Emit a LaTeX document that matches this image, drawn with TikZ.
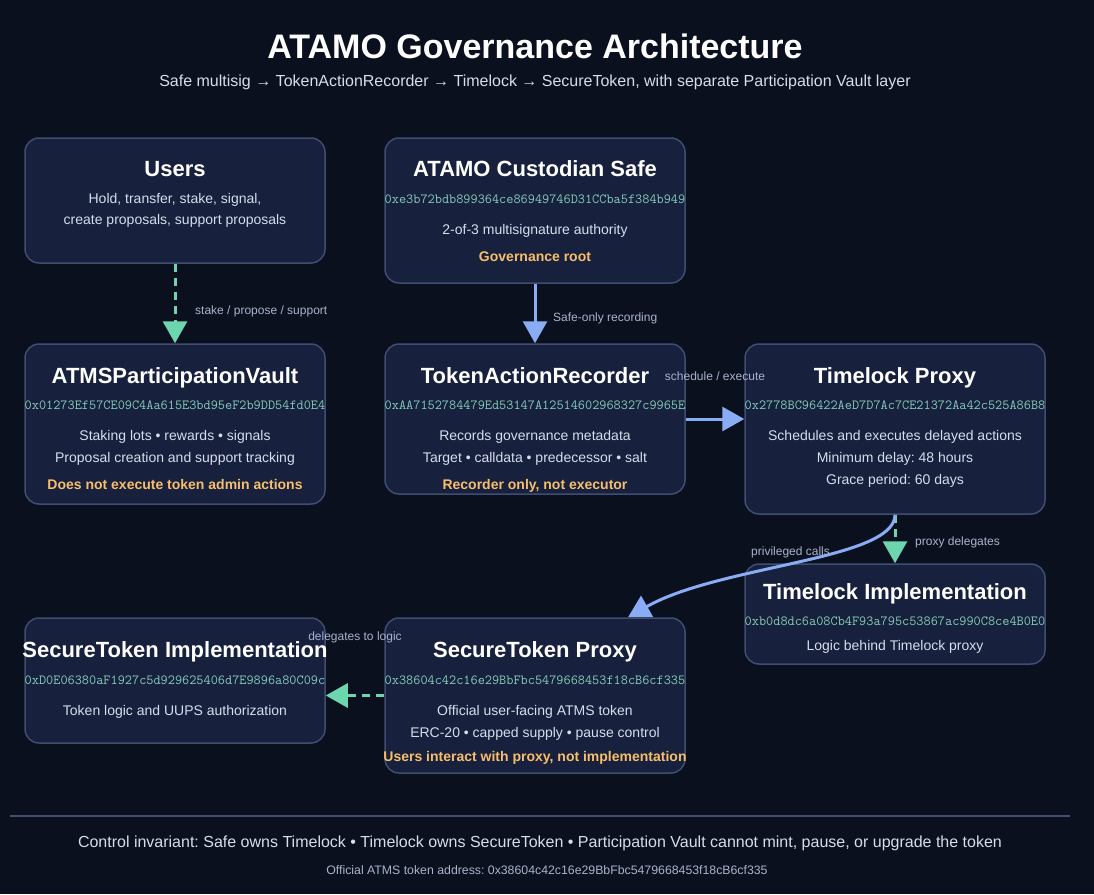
\documentclass[tikz,border=0pt]{standalone}
\usepackage{fontspec}
\setmainfont{Liberation Sans}
\usepackage{tikz}
\definecolor{pagebg}{RGB}{11, 16, 31}
\definecolor{boxfill}{RGB}{23, 32, 60}
\definecolor{boxline}{RGB}{62, 77, 112}
\definecolor{addrteal}{RGB}{134, 205, 185}
\definecolor{noteorange}{RGB}{247, 190, 108}
\definecolor{flowgreen}{RGB}{108, 214, 174}
\definecolor{flowblue}{RGB}{138, 172, 245}
\definecolor{softtext}{RGB}{214, 221, 236}
\definecolor{labeltext}{RGB}{168, 180, 202}
\usetikzlibrary{arrows.meta, positioning, calc}
\frenchspacing

\begin{document}
\begin{tikzpicture}[
    x=1pt, y=-1pt,
    box/.style={rectangle, draw=boxline, fill=boxfill, rounded corners=14pt, line width=1.5pt, minimum width=300pt},
    boxtitle/.style={font=\fontsize{22}{26}\selectfont\bfseries, text=white, inner sep=0pt, anchor=base},
    addr/.style={font=\fontsize{13.9}{16}\selectfont\ttfamily, text=addrteal, inner sep=0pt, anchor=base},
    body/.style={font=\fontsize{14}{17}\selectfont, text=softtext, inner sep=0pt, anchor=base},
    note/.style={font=\fontsize{14}{17}\selectfont\bfseries, text=noteorange, inner sep=0pt, anchor=base},
    flowlabel/.style={font=\fontsize{12}{14}\selectfont, text=labeltext, inner sep=0pt, anchor=base},
    greenflow/.style={draw=flowgreen, line width=3pt, dash pattern=on 8pt off 6pt, -{Triangle[length=22pt, width=24pt]}},
    blueflow/.style={draw=flowblue, line width=3pt, -{Triangle[length=22pt, width=24pt]}}
]
    \fill[pagebg] (0, 0) rectangle (1094, 894);
    \useasboundingbox (0, 0) rectangle (1094, 894);

    \node[font=\fontsize{34}{38}\selectfont\bfseries, text=white, inner sep=0pt, anchor=base] (title) at (535, 58.5) {ATAMO Governance Architecture};
    \node[font=\fontsize{16}{19}\selectfont, text=softtext, inner sep=0pt, anchor=base] (subtitle) at (535, 86) {Safe multisig → TokenActionRecorder → Timelock → SecureToken, with separate Participation Vault layer};

    \node[box, minimum height=125pt] (users) at (175, 200.5) {};
    \node[boxtitle] (users-title) at (175, 176) {Users};
    \node[body] (users-l1) at (175, 203.5) {Hold, transfer, stake, signal,};
    \node[body] (users-l2) at (175, 224.5) {create proposals, support proposals};

    \node[box, minimum height=145pt] (safe) at (535, 210.5) {};
    \node[boxtitle] (safe-title) at (535, 176) {ATAMO Custodian Safe};
    \node[addr] (safe-addr) at (535, 203.5) {0xe3b72bdb899364ce86949746D31CCba5f384b949};
    \node[body] (safe-l1) at (535, 234.5) {2-of-3 multisignature authority};
    \node[note] (safe-note) at (535, 261.5) {Governance root};

    \node[box, minimum height=160pt] (vault) at (175, 424) {};
    \node[boxtitle] (vault-title) at (175, 383) {ATMSParticipationVault};
    \node[addr] (vault-addr) at (175, 409.5) {0x01273Ef57CE09C4Aa615E3bd95eF2b9DD54fd0E4};
    \node[body] (vault-l1) at (175, 440.5) {Staking lots • rewards • signals};
    \node[body] (vault-l2) at (175, 462.5) {Proposal creation and support tracking};
    \node[note] (vault-note) at (175, 489.5) {Does not execute token admin actions};

    \node[box, minimum height=150pt] (recorder) at (535, 419) {};
    \node[boxtitle] (recorder-title) at (535, 383) {TokenActionRecorder};
    \node[addr] (recorder-addr) at (535, 409.5) {0xAA7152784479Ed53147A12514602968327c9965E};
    \node[body] (recorder-l1) at (535, 440.5) {Records governance metadata};
    \node[body] (recorder-l2) at (535, 462.5) {Target • calldata • predecessor • salt};
    \node[note] (recorder-note) at (535, 489.5) {Recorder only, not executor};

    \node[box, minimum height=170pt] (timelock) at (895, 429) {};
    \node[boxtitle] (timelock-title) at (895, 383) {Timelock Proxy};
    \node[addr] (timelock-addr) at (895, 409.5) {0x2778BC96422AeD7D7Ac7CE21372Aa42c525A86B8};
    \node[body] (timelock-l1) at (895, 440.5) {Schedules and executes delayed actions};
    \node[body] (timelock-l2) at (895, 462.5) {Minimum delay: 48 hours};
    \node[body] (timelock-l3) at (895, 484.5) {Grace period: 60 days};

    \node[box, minimum height=100pt] (tlimpl) at (895, 614) {};
    \node[boxtitle] (tlimpl-title) at (895, 599) {Timelock Implementation};
    \node[addr] (tlimpl-addr) at (895, 625.5) {0xb0d8dc6a08Cb4F93a795c53867ac990C8ce4B0E0};
    \node[body] (tlimpl-l1) at (895, 650.5) {Logic behind Timelock proxy};

    \node[box, minimum height=125pt] (stimpl) at (175, 680.5) {};
    \node[boxtitle] (stimpl-title) at (175, 657) {SecureToken Implementation};
    \node[addr] (stimpl-addr) at (175, 684.5) {0xD0E06380aF1927c5d929625406d7E9896a80C09c};
    \node[body] (stimpl-l1) at (175, 715.5) {Token logic and UUPS authorization};

    \node[box, minimum height=155pt] (stproxy) at (535, 695.5) {};
    \node[boxtitle] (stproxy-title) at (535, 657) {SecureToken Proxy};
    \node[addr] (stproxy-addr) at (535, 684.5) {0x38604c42c16e29BbFbc5479668453f18cB6cf335};
    \node[body] (stproxy-l1) at (535, 715.5) {Official user-facing ATMS token};
    \node[body] (stproxy-l2) at (535, 737.5) {ERC-20 • capped supply • pause control};
    \node[note] (stproxy-note) at (535, 761.5) {Users interact with proxy, not implementation};

    \draw[greenflow] (users.south) -- (vault.north);
    \node[flowlabel, anchor=base west] (lbl-stake) at (195, 314.5) {stake / propose / support};

    \draw[blueflow] (safe.south) -- (recorder.north);
    \node[flowlabel, anchor=base west] (lbl-safeonly) at (553, 321.5) {Safe-only recording};

    \draw[blueflow] (recorder.east) -- (recorder.east -| timelock.west);
    \node[flowlabel] (lbl-schedule) at (715, 380.5) {schedule / execute};

    \draw[greenflow] (timelock.south) -- (tlimpl.north);
    \node[flowlabel, anchor=base west] (lbl-proxydel) at (915, 545.5) {proxy delegates};

    \draw[blueflow] (timelock.south) .. controls (895, 560) and (720, 565) .. ([xshift=93pt]stproxy.north);
    \node[flowlabel, anchor=base west] (lbl-privileged) at (751, 555.5) {privileged calls};

    \draw[greenflow] (stproxy.west) -- (stproxy.west -| stimpl.east);
    \node[flowlabel] (lbl-logic) at (355, 640.5) {delegates to logic};

    \draw[boxline, line width=2pt] (10, 816) -- (1070, 816);
    \node[font=\fontsize{16}{19}\selectfont, text=softtext, inner sep=0pt, anchor=base] (invariant) at (540, 847.5) {Control invariant: Safe owns Timelock • Timelock owns SecureToken • Participation Vault cannot mint, pause, or upgrade the token};
    \node[font=\fontsize{12.3}{14}\selectfont, text=labeltext, inner sep=0pt, anchor=base] (tokenaddr) at (547, 874.5) {Official ATMS token address: 0x38604c42c16e29BbFbc5479668453f18cB6cf335};
\end{tikzpicture}
\end{document}
